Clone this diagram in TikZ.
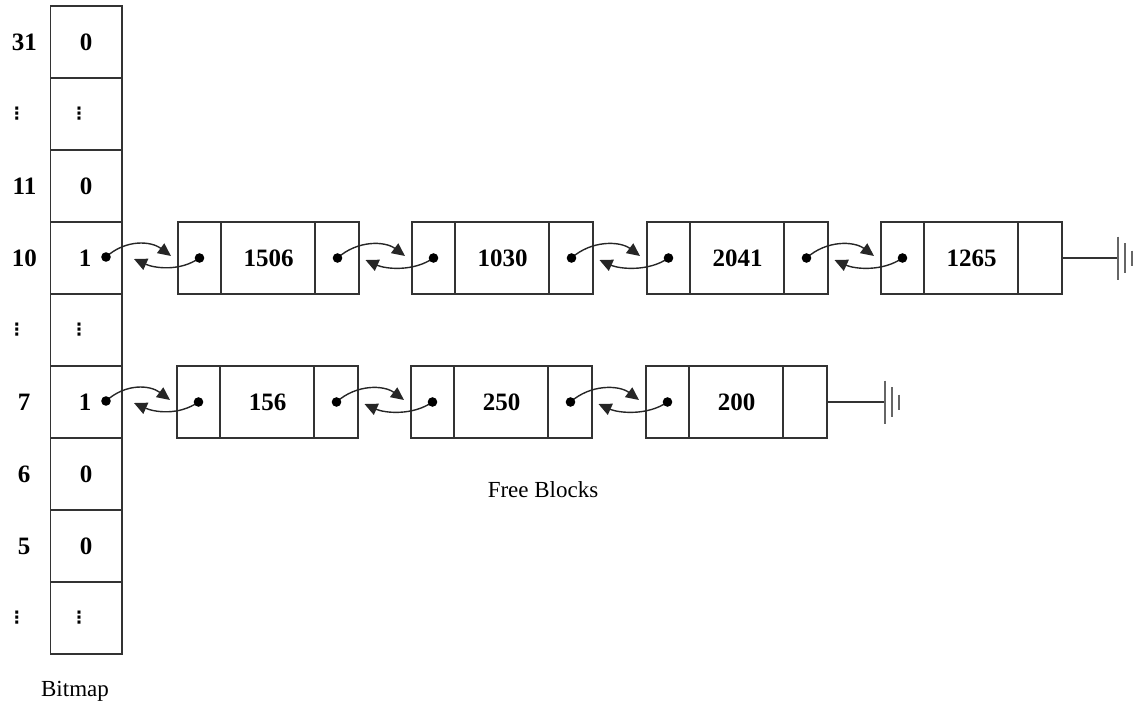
\documentclass[tikz,border=0pt]{standalone}
\usepackage{fontspec}
\setmainfont{Liberation Serif}
\newfontfamily\dotsfont{DejaVu Sans}
\usetikzlibrary{calc,arrows.meta}
\begin{document}
\begin{tikzpicture}[x=1pt,y=-1pt,
  line/.style={draw=black!80,line width=1.6pt},
  cell/.style={line,minimum width=71.5pt,minimum height=72pt,inner sep=0pt,outer sep=0pt},
  num/.style={font=\bfseries\fontsize{25}{30}\selectfont,inner sep=0pt},
  vdot/.style={font=\dotsfont\bfseries\fontsize{17}{20}\selectfont,inner sep=0pt},
  blk/.style={line,minimum width=181pt,minimum height=72pt,inner sep=0pt,outer sep=0pt},
  link/.style={draw=black!85,line width=1.4pt,-{Triangle[length=13pt,width=12pt]}},
  caption/.style={font=\fontsize{23}{28}\selectfont,inner sep=0pt}
]
\useasboundingbox (0,0) rectangle (1144,706);

% bitmap column
\node[cell] (c31) at (86.25,42)  {};
\node[cell] (cd1) at (86.25,114) {};
\node[cell] (c11) at (86.25,186) {};
\node[cell] (c10) at (86.25,258) {};
\node[cell] (cd2) at (86.25,330) {};
\node[cell] (c7)  at (86.25,402) {};
\node[cell] (c6)  at (86.25,474) {};
\node[cell] (c5)  at (86.25,546) {};
\node[cell] (cd3) at (86.25,618) {};

% bit values
\node[num] (v31) at (86,42) {0};
\node[vdot] (vd1) at (79,114) {⋮};
\node[num] (v11) at (86,186) {0};
\node[num] (v10) at (85,258) {1};
\node[vdot] (vd2) at (79,330) {⋮};
\node[num] (v7)  at (85,402) {1};
\node[num] (v6)  at (86,474) {0};
\node[num] (v5)  at (86,546) {0};
\node[vdot] (vd3) at (79,618) {⋮};

% bit indices
\node[num] (i31) at (24.5,42) {31};
\node[vdot] (id1) at (17,114) {⋮};
\node[num] (i11) at (24.5,186) {11};
\node[num] (i10) at (24.5,258) {10};
\node[vdot] (id2) at (17,330) {⋮};
\node[num] (i7)  at (24,402) {7};
\node[num] (i6)  at (24,474) {6};
\node[num] (i5)  at (24,546) {5};
\node[vdot] (id3) at (17,618) {⋮};

% free block lists
\node[blk] (a1) at (268.5,258) {}; \node[num] at (a1) {1506};
\node[blk] (a2) at (502.5,258) {}; \node[num] at (a2) {1030};
\node[blk] (a3) at (737.5,258) {}; \node[num] at (a3) {2041};
\node[blk] (a4) at (971.5,258) {}; \node[num] at (a4) {1265};
\node[blk] (b1) at (267.5,402) {}; \node[num] at (b1) {156};
\node[blk] (b2) at (501.5,402) {}; \node[num] at (b2) {250};
\node[blk] (b3) at (736.5,402) {}; \node[num] at (b3) {200};

\foreach \blkname in {a1,a2,a3,a4,b1,b2,b3}{
  \draw[line] ($(\blkname.north west)+(43,0)$) -- ($(\blkname.south west)+(43,0)$);
  \draw[line] ($(\blkname.north west)+(137,0)$) -- ($(\blkname.south west)+(137,0)$);
  \coordinate (\blkname-in) at ($(\blkname.west)+(21.5,0)$);
  \coordinate (\blkname-out) at ($(\blkname.east)+(-21.5,0)$);
}
\coordinate (c10-out) at (106,257);
\coordinate (c7-out) at (106,401);

% doubly linked pointers
\foreach \p/\n in {c10/a1,a1/a2,a2/a3,a3/a4,c7/b1,b1/b2,b2/b3}{
  \draw[link] (\p-out) .. controls +(20,-18) and +(-20,-15) .. ($(\n.west)+(-7,-2)$);
  \draw[link] (\n-in) .. controls +(-20,14) and +(20,9) .. ($(\p-out)+(28,2)$);
}
\foreach \d in {c10-out,c7-out,a1-in,a1-out,a2-in,a2-out,a3-in,a3-out,a4-in,
                b1-in,b1-out,b2-in,b2-out,b3-in}
  \fill[black] (\d) circle (4.8);

% list terminators
\draw[line,line width=1.3pt] (a4.east) -- ++(56,0) coordinate (g1);
\draw[line,line width=1.3pt] (b3.east) -- ++(58,0) coordinate (g2);
\foreach \g in {g1,g2}
  \foreach \dx/\h in {0/21.5,7/15,14/7.5}
    \draw[line,draw=black!60,line width=1.8pt] ($(\g)+(\dx,-\h)$) -- ($(\g)+(\dx,\h)$);

% captions
\node[caption] (fb) at (543,490) {Free Blocks};
\node[caption] (bm) at (75,691) {Bitmap};
\end{tikzpicture}
\end{document}
